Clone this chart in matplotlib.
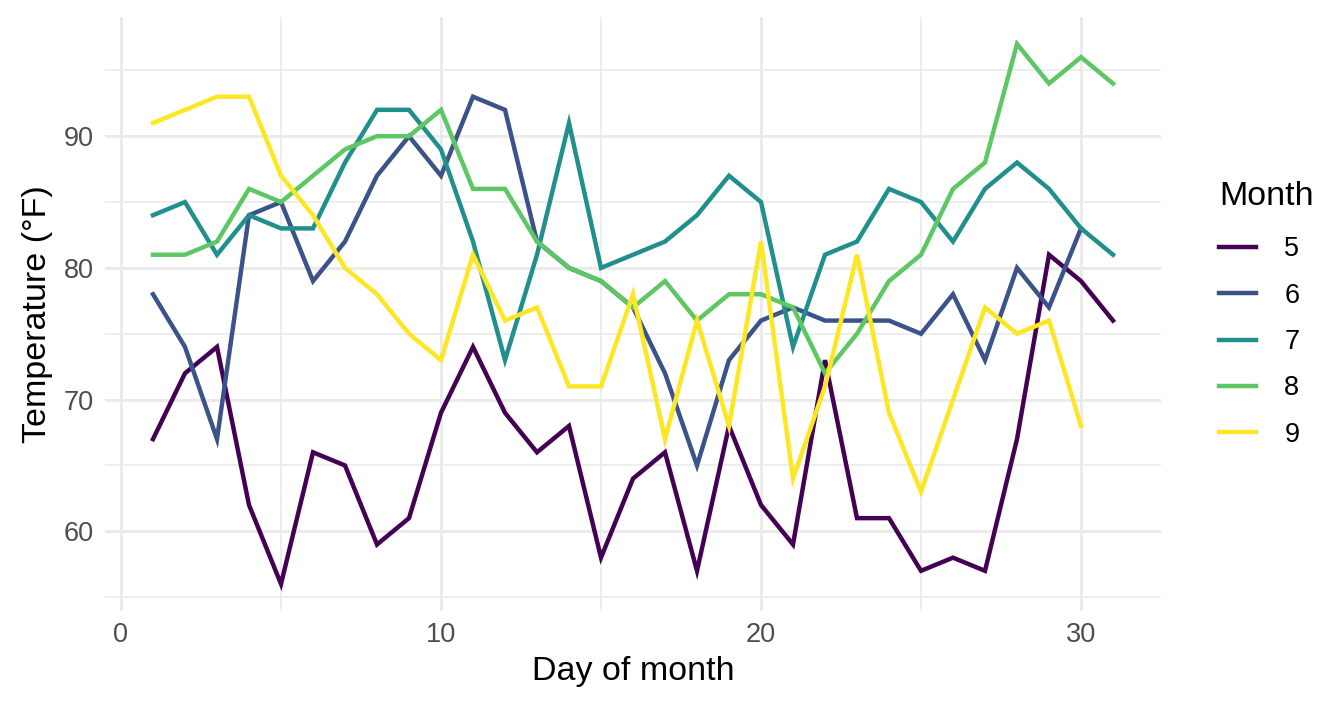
import matplotlib
matplotlib.use("Agg")
import matplotlib.pyplot as plt
from matplotlib.ticker import MultipleLocator

plt.rcParams['font.family'] = ['Liberation Sans', 'DejaVu Sans']

months = ["5", "6", "7", "8", "9"]
colors = ["#440154", "#3B528B", "#21908C", "#5DC863", "#FDE725"]
temp_may = [67, 72, 74, 62, 56, 66, 65, 59, 61, 69, 74, 69, 66, 68, 58, 64, 66, 57, 68, 62, 59, 73, 61, 61, 57, 58, 57, 67, 81, 79, 76]
temp_jun = [78, 74, 67, 84, 85, 79, 82, 87, 90, 87, 93, 92, 82, 80, 79, 77, 72, 65, 73, 76, 77, 76, 76, 76, 75, 78, 73, 80, 77, 83]
temp_jul = [84, 85, 81, 84, 83, 83, 88, 92, 92, 89, 82, 73, 81, 91, 80, 81, 82, 84, 87, 85, 74, 81, 82, 86, 85, 82, 86, 88, 86, 83, 81]
temp_aug = [81, 81, 82, 86, 85, 87, 89, 90, 90, 92, 86, 86, 82, 80, 79, 77, 79, 76, 78, 78, 77, 72, 75, 79, 81, 86, 88, 97, 94, 96, 94]
temp_sep = [91, 92, 93, 93, 87, 84, 80, 78, 75, 73, 81, 76, 77, 71, 71, 78, 67, 76, 68, 82, 64, 71, 81, 69, 63, 70, 77, 75, 76, 68]
series = [temp_may, temp_jun, temp_jul, temp_aug, temp_sep]

fig = plt.figure(figsize=(13.44, 7.10), dpi=100)
ax = fig.add_axes([105/1344, 1-611/710, (1161-105)/1344, (611-17)/710])

for m, c, vals in zip(months, colors, series):
    days = list(range(1, len(vals)+1))
    ax.plot(days, vals, color=c, lw=3.2, label=m, solid_joinstyle='miter')

ax.set_xlim(-0.5, 32.5)
ax.set_ylim(53.95, 99.05)
ax.xaxis.set_major_locator(MultipleLocator(10))
ax.xaxis.set_minor_locator(MultipleLocator(5))
ax.yaxis.set_major_locator(MultipleLocator(10))
ax.yaxis.set_minor_locator(MultipleLocator(5))
ax.grid(which='major', color='#EBEBEB', lw=2.1)
ax.grid(which='minor', color='#EBEBEB', lw=1.2)
ax.set_axisbelow(True)
for s in ax.spines.values():
    s.set_visible(False)
ax.tick_params(which='both', length=0, labelsize=19.5, labelcolor='#4D4D4D', pad=8)
ax.set_xlabel("Day of month", fontsize=24.5, labelpad=6)
ax.set_ylabel("Temperature (°F)", fontsize=24.5, labelpad=8)

leg = ax.legend(title="Month", loc='center left', bbox_to_anchor=(1.045, 0.496), frameon=False,
                fontsize=19.5, title_fontsize=24.5, handlelength=1.35, labelspacing=0.75,
                handletextpad=1.05, alignment='left', borderaxespad=0)
leg.get_title().set_position((0, 4))

fig.savefig("out.png", dpi=100, facecolor='white')
